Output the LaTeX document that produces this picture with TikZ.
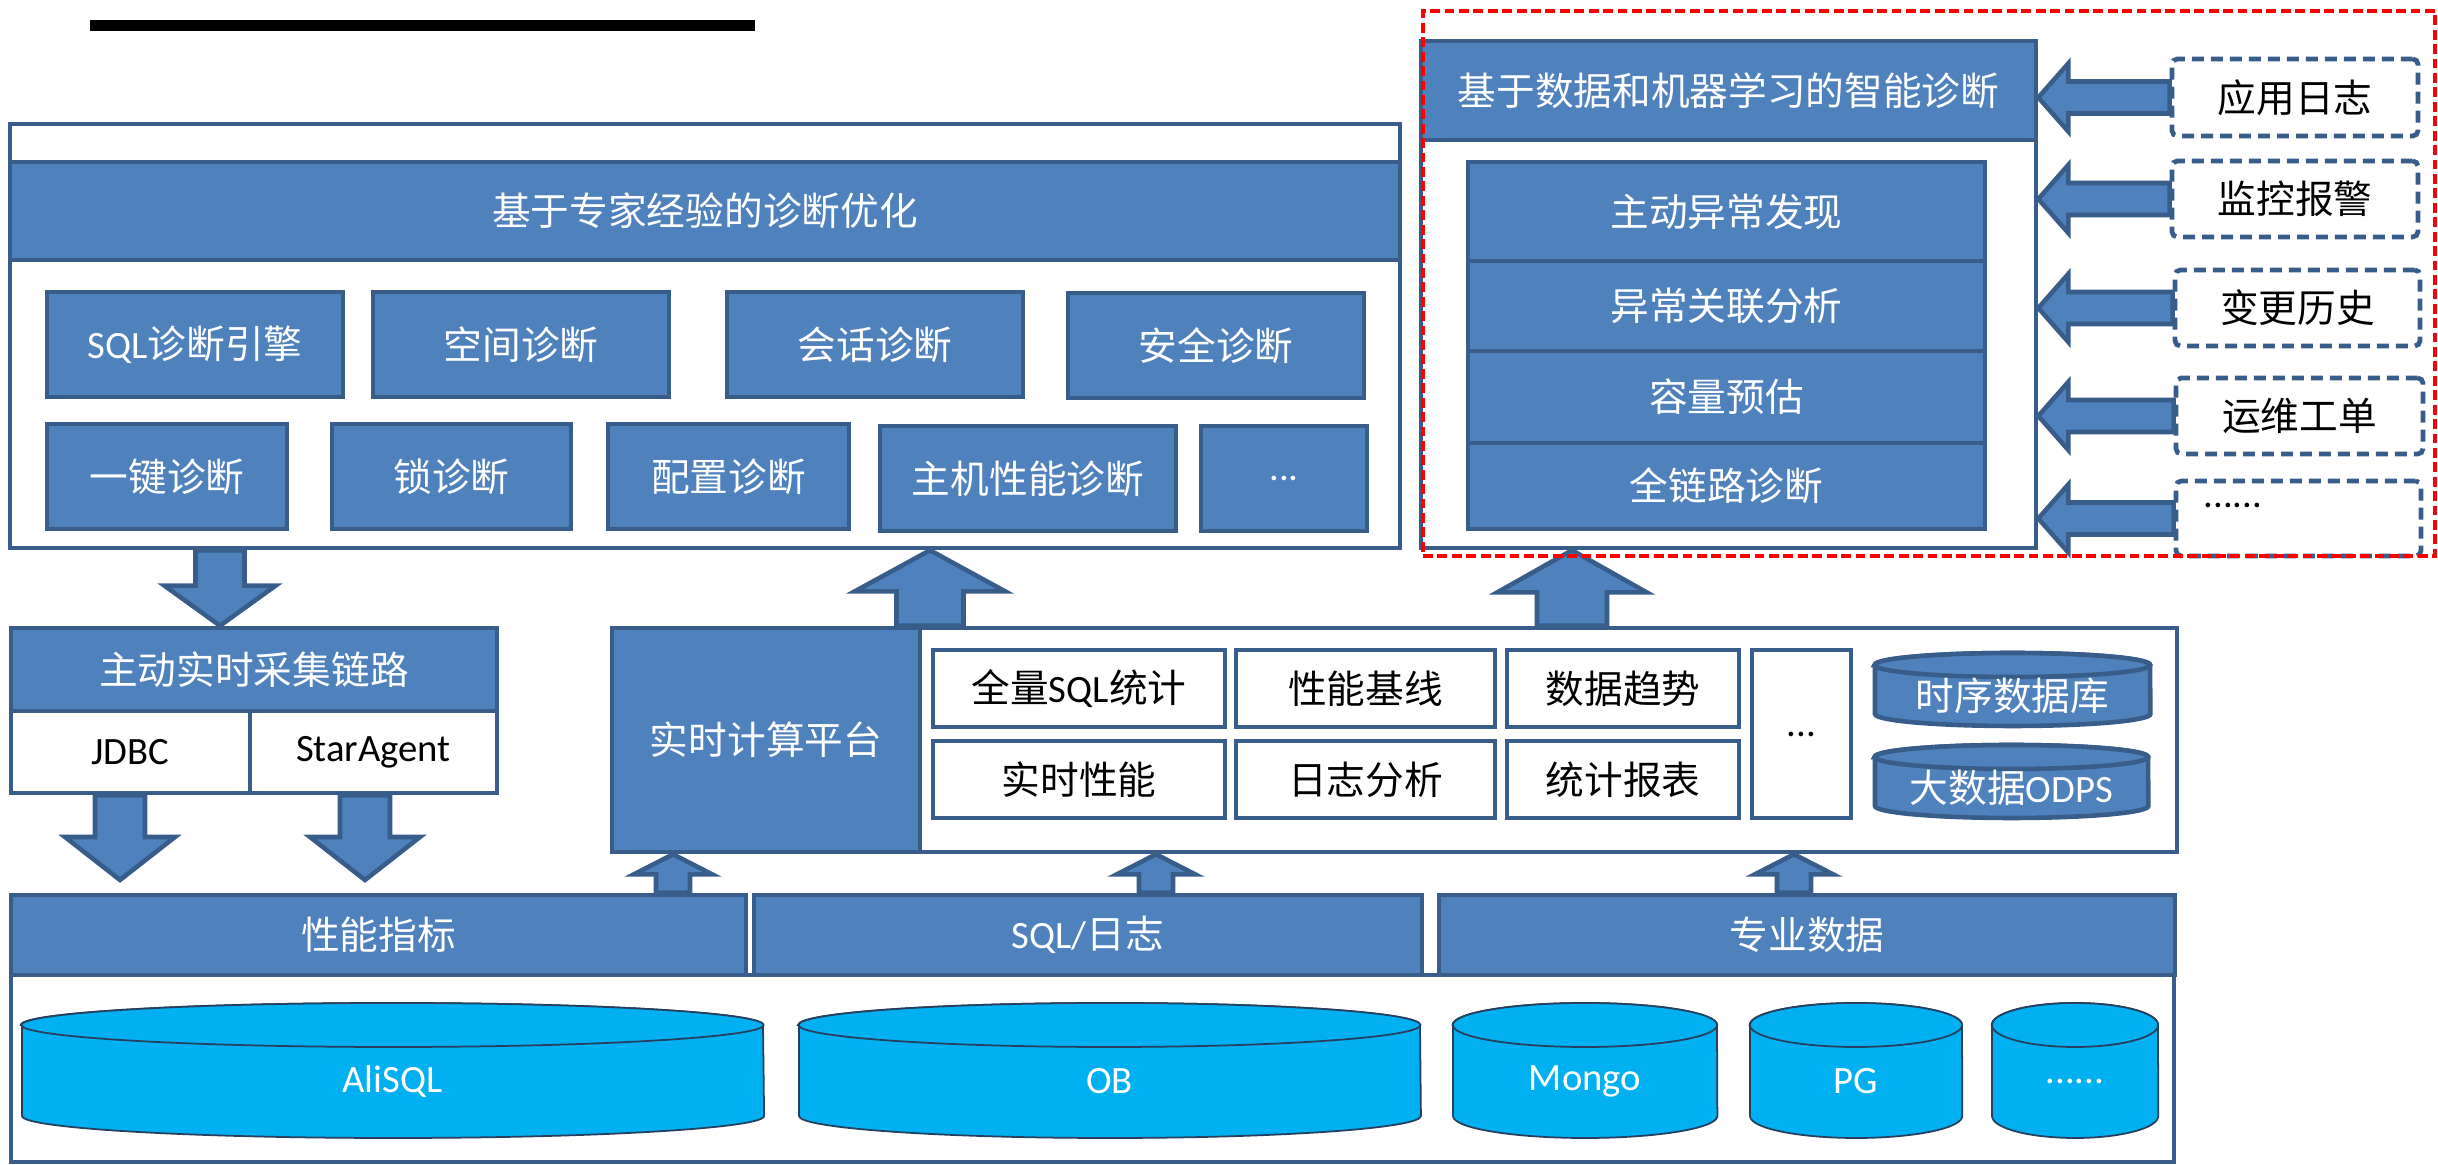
\documentclass[tikz,border=0pt]{standalone}
\usepackage{fontspec}
\setmainfont{Noto Sans CJK SC}
\newfontfamily\lat{Carlito}
\usepackage{tikz}
\usetikzlibrary{calc}

\definecolor{boxblue}{HTML}{4F81BD}
\definecolor{boxedge}{HTML}{385D8A}
\definecolor{dbcyan}{HTML}{00B0F0}
\definecolor{dbedge}{HTML}{24405E}

\tikzset{
  bluebox/.style={draw=boxedge, fill=boxblue, line width=1.3pt, text=white, inner sep=0pt},
  whitebox/.style={draw=boxedge, fill=white, line width=1.3pt, text=black, inner sep=0pt},
  srcbox/.style={draw=boxedge, fill=white, line width=1.35pt, dash pattern=on 3.4pt off 2pt, rounded corners=1.5pt, inner sep=0pt},
  groupframe/.style={draw=red, line width=1.05pt, dash pattern=on 2.8pt off 1.3pt, inner sep=0pt},
  barrow/.style={draw=boxedge, fill=boxblue, line width=1.3pt, line join=miter},
  dbbody/.style={draw=dbedge, fill=dbcyan, line width=0.5pt},
  tsbody/.style={draw=boxedge, fill=boxblue, line width=1.3pt},
  dblabel/.style={text=white, inner sep=0pt},
}

% box from corner (#3,#4) to (#5,#6), pixel units
\newcommand{\blk}[7][]{\node[#1, minimum width={(#5-#3)*0.01cm}, minimum height={(#6-#4)*0.01cm}] (#2) at ({(#3+#5)/2},{(#4+#6)/2}) {#7};}

% block arrow: from, to, shaft half width, head half width, head length
\newcommand{\barr}[5]{%
  \coordinate (hb) at ($(#2)!#5!(#1)$);
  \draw[barrow] ($(#1)!#3!90:(#2)$) -- ($(hb)!#3!90:(#2)$) -- ($(hb)!#4!90:(#2)$) -- (#2)
    -- ($(hb)!#4!-90:(#2)$) -- ($(hb)!#3!-90:(#2)$) -- ($(#1)!#3!-90:(#2)$) -- cycle;}

% cylinder: style, name, x1, y1, x2, y2, ry, text
\newcommand{\cyl}[8][]{%
  \path[#1] ({#3},{#4+#7}) -- ({#3},{#6-#7})
    arc[start angle=180, end angle=360, x radius={(#5-#3)*0.005cm}, y radius={#7*0.01cm}]
    -- ({#5},{#4+#7})
    arc[start angle=0, end angle=180, x radius={(#5-#3)*0.005cm}, y radius={#7*0.01cm}] -- cycle;
  \path[#1] ({(#3+#5)/2},{#4+#7}) ellipse [x radius={(#5-#3)*0.005cm}, y radius={#7*0.01cm}];
  \node[dblabel] (#2) at ({(#3+#5)/2},{(#4+#7+#6)/2}) {#8};}

\begin{document}
\begin{tikzpicture}[x=0.01cm, y=-0.01cm, font=\fontsize{11pt}{13pt}\selectfont]
	\useasboundingbox (0,0) rectangle (2438,1165);
	\fill (90,20) rectangle (755,31);

	% expert diagnosis
	\blk[whitebox]{expert}{10}{124}{1400}{548}{}
	\blk[bluebox]{exptitle}{10}{162}{1400}{260}{基于专家经验的诊断优化}
	\blk[bluebox]{sqld}{47}{292}{343}{397}{{\lat SQL}诊断引擎}
	\blk[bluebox]{space}{373}{292}{669}{397}{空间诊断}
	\blk[bluebox]{sess}{727}{292}{1023}{397}{会话诊断}
	\blk[bluebox]{safe}{1068}{293}{1364}{398}{安全诊断}
	\blk[bluebox]{onekey}{47}{424}{287}{529}{一键诊断}
	\blk[bluebox]{lock}{332}{424}{571}{529}{锁诊断}
	\blk[bluebox]{conf}{608}{424}{849}{529}{配置诊断}
	\blk[bluebox]{host}{880}{426}{1176}{531}{主机性能诊断}
	\blk[bluebox]{moreexp}{1201}{426}{1367}{531}{\lat ...}

	% intelligent diagnosis
	\blk[whitebox]{smart}{1421}{41}{2036}{548}{}
	\blk[bluebox]{smarttitle}{1421}{41}{2036}{140}{基于数据和机器学习的智能诊断}
	\blk[bluebox]{find}{1468}{162}{1985}{261}{主动异常发现}
	\blk[bluebox]{corr}{1468}{261}{1985}{351}{异常关联分析}
	\blk[bluebox]{cap}{1468}{351}{1985}{443}{容量预估}
	\blk[bluebox]{link}{1468}{443}{1985}{529}{全链路诊断}

	\blk[srcbox]{applog}{2172}{59}{2418}{136}{应用日志}
	\blk[srcbox]{alarm}{2172}{161}{2418}{237}{监控报警}
	\blk[srcbox]{change}{2175}{270}{2420}{346}{变更历史}
	\blk[srcbox]{ticket}{2176}{378}{2423}{454}{运维工单}
	\blk[srcbox]{etc}{2176}{481}{2421}{556}{}
	\node[anchor=base west, inner sep=0pt] (etctext) at (2203,508) {\lat ......};

	% collection
	\blk[bluebox]{collect}{11}{628}{497}{711}{主动实时采集链路}
	\blk[whitebox]{jdbc}{11}{711}{250}{793}{\lat JDBC}
	\blk[whitebox]{star}{250}{711}{497}{793}{\lat StarAgent}

	% realtime platform
	\blk[whitebox]{platform}{612}{628}{2177}{852}{}
	\blk[bluebox]{calc}{612}{628}{920}{852}{实时计算平台}
	\blk[whitebox]{fullsql}{933}{650}{1225}{727}{全量{\lat SQL}统计}
	\blk[whitebox]{baseline}{1236}{650}{1495}{727}{性能基线}
	\blk[whitebox]{trend}{1507}{650}{1739}{727}{数据趋势}
	\blk[whitebox]{rtperf}{933}{741}{1225}{818}{实时性能}
	\blk[whitebox]{loga}{1236}{741}{1495}{818}{日志分析}
	\blk[whitebox]{report}{1507}{741}{1739}{818}{统计报表}
	\blk[whitebox]{moreplat}{1752}{650}{1851}{818}{\lat ...}
	\cyl[tsbody]{tsdb}{1875}{653}{2150}{726}{12}{时序数据库}
	\cyl[tsbody]{odps}{1875}{745}{2148}{818}{12}{大数据{\lat ODPS}}

	% data sources
	\blk[whitebox]{dbs}{11}{975}{2174}{1162}{}
	\blk[bluebox]{perf}{11}{895}{746}{975}{性能指标}
	\blk[bluebox]{sqllog}{754}{895}{1422}{975}{{\lat SQL/}日志}
	\blk[bluebox]{spec}{1439}{895}{2175}{975}{专业数据}
	\cyl[dbbody]{alisql}{22}{1003}{763}{1138}{22}{\lat AliSQL}
	\cyl[dbbody]{ob}{799}{1003}{1420}{1138}{22}{\lat OB}
	\cyl[dbbody]{mongo}{1453}{1003}{1717}{1138}{22}{\lat Mongo}
	\cyl[dbbody]{pg}{1750}{1003}{1962}{1138}{22}{\lat PG}
	\cyl[dbbody]{moredb}{1992}{1003}{2158}{1138}{22}{\lat ......}

	% arrows
	\coordinate (a1) at (220,0);
	\coordinate (j1) at (120,880);
	\coordinate (s1) at (365,880);
	\coordinate (ua) at (930,0);
	\coordinate (ub) at (1572,0);
	\coordinate (u1) at (673,0);
	\coordinate (u2) at (1156,0);
	\coordinate (u3) at (1794,0);
	\barr{a1 |- expert.south}{a1 |- collect.north}{0.245cm}{0.555cm}{0.4cm}
	\barr{j1 |- jdbc.south}{j1}{0.25cm}{0.55cm}{0.43cm}
	\barr{s1 |- star.south}{s1}{0.25cm}{0.55cm}{0.43cm}
	\barr{ua |- platform.north}{ua |- expert.south}{0.335cm}{0.75cm}{0.41cm}
	\barr{ub |- platform.north}{ub |- smart.south}{0.35cm}{0.745cm}{0.42cm}
	\barr{u1 |- perf.north}{u1 |- platform.south}{0.17cm}{0.39cm}{0.2cm}
	\barr{u2 |- sqllog.north}{u2 |- platform.south}{0.17cm}{0.39cm}{0.2cm}
	\barr{u3 |- spec.north}{u3 |- platform.south}{0.17cm}{0.39cm}{0.2cm}
	\barr{applog.west}{smart.east |- applog.west}{0.16cm}{0.34cm}{0.3cm}
	\barr{alarm.west}{smart.east |- alarm.west}{0.16cm}{0.34cm}{0.3cm}
	\barr{change.west}{smart.east |- change.west}{0.16cm}{0.34cm}{0.3cm}
	\barr{ticket.west}{smart.east |- ticket.west}{0.16cm}{0.34cm}{0.3cm}
	\barr{etc.west}{smart.east |- etc.west}{0.16cm}{0.34cm}{0.3cm}

	\blk[groupframe]{aiframe}{1423}{11}{2435}{556}{}
\end{tikzpicture}
\end{document}
